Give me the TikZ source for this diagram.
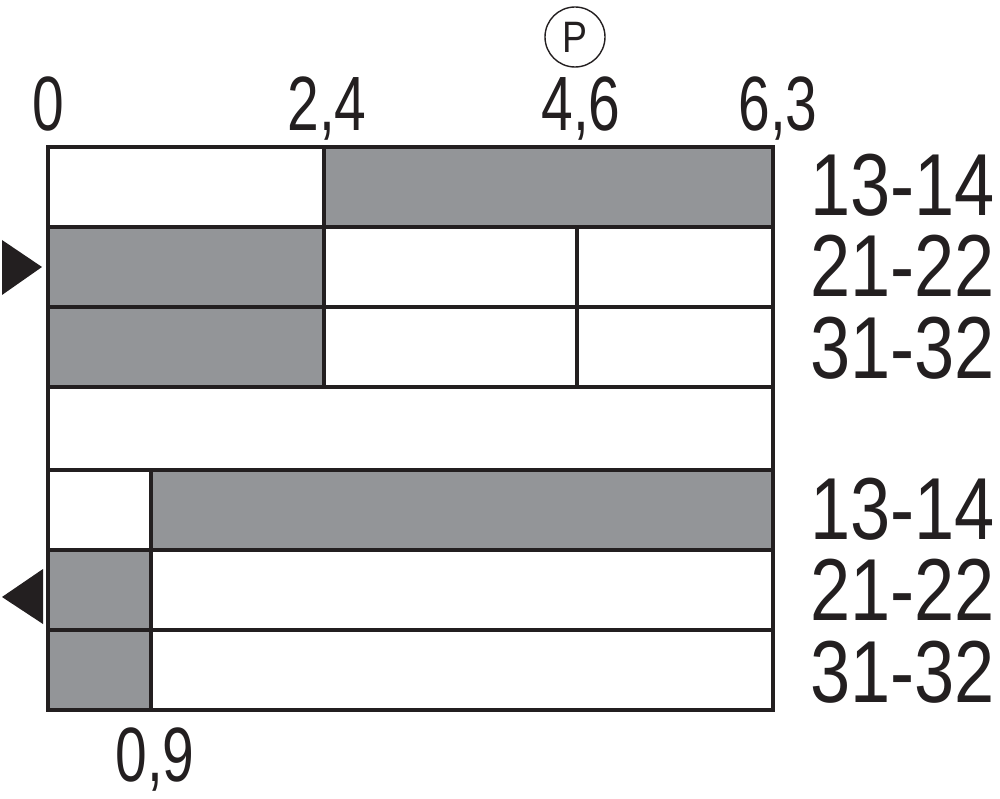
\documentclass[tikz,border=0pt]{standalone}
\usepackage{fontspec}
\setmainfont{Liberation Sans}
\definecolor{cellgray}{HTML}{939598}
\definecolor{ink}{HTML}{231F20}
\begin{document}
\begin{tikzpicture}[x=1pt,y=-1pt,
  grid/.style={draw=ink,line width=3.6pt},
  gcell/.style={fill=cellgray},
  toplab/.style={anchor=base,inner sep=0pt,font=\fontsize{77}{77}\selectfont,xscale=0.74,text=ink},
  rowlab/.style={anchor=base west,inner sep=0pt,font=\fontsize{88}{88}\selectfont,xscale=0.82,text=ink},
  marker/.style={fill=ink}]
\useasboundingbox (0,0) rectangle (1000,799);
% gray cells
\fill[gcell] (324,147) rectangle (773,227);
\fill[gcell] (48,227) rectangle (324,387);
\fill[gcell] (151,470) rectangle (773,550);
\fill[gcell] (48,550) rectangle (151,710);
% grid
\draw[grid] (48,147) rectangle (773,710);
\foreach \yy in {227,307,387,470,550,630} \draw[grid] (48,\yy) -- (773,\yy);
\draw[grid] (324,147) -- (324,387);
\draw[grid] (577,227) -- (577,387);
\draw[grid] (151,470) -- (151,710);
% markers
\fill[marker] (2,240) -- (42,267) -- (2,295) -- cycle;
\fill[marker] (43,569) -- (2,597) -- (43,624) -- cycle;
% top labels
\node[toplab] (l0) at (48,131) {0};
\node[toplab] (l24) at (327,131) {2,4};
\node[toplab] (l46) at (581,131) {4,6};
\node[toplab] (l63) at (778,131) {6,3};
\node[toplab] (l09) at (155,781) {0,9};
% P symbol
\node[draw=ink,line width=1.4pt,circle,minimum size=60pt,inner sep=0pt,
  font=\fontsize{44}{44}\selectfont,text=ink] (p) at (575,37) {\scalebox{0.85}[1]{P}};
% row labels
\node[rowlab] (r1) at (810,216) {13-14};
\node[rowlab] (r2) at (810,297) {21-22};
\node[rowlab] (r3) at (810,378) {31-32};
\node[rowlab] (r5) at (810,539) {13-14};
\node[rowlab] (r6) at (810,620) {21-22};
\node[rowlab] (r7) at (810,702) {31-32};
\end{tikzpicture}
\end{document}
